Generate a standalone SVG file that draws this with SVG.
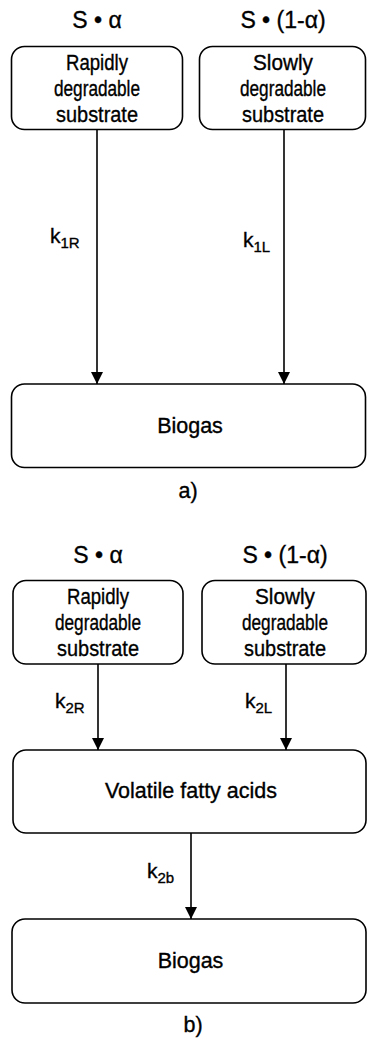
<svg xmlns="http://www.w3.org/2000/svg" width="367" height="1040" viewBox="0 0 367 1040">
<defs>
<style>
.box{fill:#fff;stroke:#000;stroke-width:1.6}
text{stroke:#000;stroke-width:0.35}
.t{font-family:"Liberation Sans",Arial,sans-serif;font-size:21.5px;fill:#000;text-anchor:middle}
.lab{font-family:"Liberation Sans",Arial,sans-serif;font-size:23px;fill:#000;text-anchor:middle}
.bt{font-family:"Liberation Sans",Arial,sans-serif;font-size:22px;fill:#000;text-anchor:middle}
.k{font-family:"Liberation Sans",Arial,sans-serif;font-size:21px;fill:#000}
.sub{font-size:15px}
.edge{stroke:#000;stroke-width:1.6;fill:none;marker-end:url(#ah)}
</style>
<marker id="ah" viewBox="0 0 12 12" refX="12" refY="6" markerWidth="12" markerHeight="12" markerUnits="userSpaceOnUse" orient="auto">
<path d="M0,0 L12,6 L0,12 Z" fill="#000"/>
</marker>
</defs>
<rect width="367" height="1040" fill="#fff"/>

<g id="connectors">
<line class="edge" x1="97" y1="129.5" x2="97" y2="384"/>
<line class="edge" x1="284" y1="129.5" x2="284" y2="384"/>
<line class="edge" x1="98" y1="664" x2="98" y2="750"/>
<line class="edge" x1="286" y1="664" x2="286" y2="750"/>
<line class="edge" x1="191" y1="833" x2="191" y2="919"/>
<text class="k" x="50" y="243">k<tspan class="sub" dy="5">1R</tspan></text>
<text class="k" x="243" y="247">k<tspan class="sub" dy="5">1L</tspan></text>
<text class="k" x="55" y="708">k<tspan class="sub" dy="5">2R</tspan></text>
<text class="k" x="245" y="708">k<tspan class="sub" dy="5">2L</tspan></text>
<text class="k" x="147" y="878">k<tspan class="sub" dy="5">2b</tspan></text>
</g>

<g id="label-a-rapid"><text class="lab" x="97" y="28">S • α</text></g>
<g id="label-a-slow"><text class="lab" x="283" y="28">S • (1-α)</text></g>

<g id="a-rapid">
<rect class="box" x="11.5" y="46.5" width="171" height="83" rx="13"/>
<text class="bt" x="97" y="70" textLength="62" lengthAdjust="spacingAndGlyphs">Rapidly</text>
<text class="bt" x="97" y="96" textLength="86" lengthAdjust="spacingAndGlyphs">degradable</text>
<text class="bt" x="97" y="122" textLength="82" lengthAdjust="spacingAndGlyphs">substrate</text>
</g>
<g id="a-slow">
<rect class="box" x="199.5" y="46.5" width="166" height="83" rx="13"/>
<text class="bt" x="283" y="70" textLength="60" lengthAdjust="spacingAndGlyphs">Slowly</text>
<text class="bt" x="283" y="96" textLength="86" lengthAdjust="spacingAndGlyphs">degradable</text>
<text class="bt" x="283" y="122" textLength="82" lengthAdjust="spacingAndGlyphs">substrate</text>
</g>
<g id="a-biogas">
<rect class="box" x="11.5" y="384" width="354" height="83.5" rx="13"/>
<text class="t" x="190" y="433">Biogas</text>
</g>
<g id="caption-a"><text class="t" x="188" y="498">a)</text></g>

<g id="label-b-rapid"><text class="lab" x="98" y="563">S • α</text></g>
<g id="label-b-slow"><text class="lab" x="285" y="563">S • (1-α)</text></g>
<g id="b-rapid">
<rect class="box" x="13" y="580.5" width="170" height="83.5" rx="13"/>
<text class="bt" x="98" y="604" textLength="62" lengthAdjust="spacingAndGlyphs">Rapidly</text>
<text class="bt" x="98" y="630" textLength="86" lengthAdjust="spacingAndGlyphs">degradable</text>
<text class="bt" x="98" y="656" textLength="82" lengthAdjust="spacingAndGlyphs">substrate</text>
</g>
<g id="b-slow">
<rect class="box" x="202" y="580.5" width="164" height="83.5" rx="13"/>
<text class="bt" x="285" y="604" textLength="60" lengthAdjust="spacingAndGlyphs">Slowly</text>
<text class="bt" x="285" y="630" textLength="86" lengthAdjust="spacingAndGlyphs">degradable</text>
<text class="bt" x="285" y="656" textLength="82" lengthAdjust="spacingAndGlyphs">substrate</text>
</g>
<g id="b-vfa">
<rect class="box" x="13" y="750" width="353" height="83" rx="13"/>
<text class="t" x="191" y="798">Volatile fatty acids</text>
</g>
<g id="b-biogas">
<rect class="box" x="12" y="919" width="354" height="84" rx="13"/>
<text class="t" x="190.5" y="968">Biogas</text>
</g>
<g id="caption-b"><text class="t" x="193" y="1032">b)</text></g>
</svg>
